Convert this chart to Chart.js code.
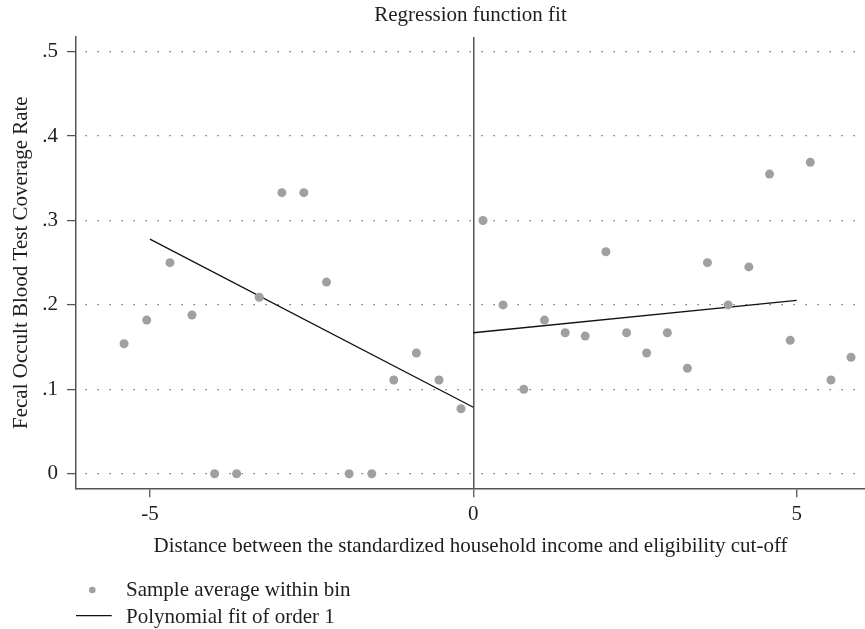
<!DOCTYPE html>
<html>
<head>
<meta charset="utf-8">
<script src="https://cdn.jsdelivr.net/npm/chart.js@4"></script>
<style>
  html, body { margin: 0; padding: 0; background: #ffffff; }
  #wrap { width: 865px; height: 629px; position: relative; }
</style>
</head>
<body>
<div id="wrap"><canvas id="c" width="865" height="629"></canvas></div>
<script>
// ---- data ----
const xTicks = [-5, 0, 5];
const yTicks = [0, 0.1, 0.2, 0.3, 0.4, 0.5];
const yTickLabels = ["0", ".1", ".2", ".3", ".4", ".5"];

const leftBinX = [-5.40, -5.05, -4.69, -4.35, -4.00, -3.66, -3.31, -2.96, -2.62, -2.27, -1.92, -1.57, -1.23, -0.88, -0.53, -0.19];
const leftBinY = [0.154, 0.182, 0.250, 0.188, 0.000, 0.000, 0.209, 0.333, 0.333, 0.227, 0.000, 0.000, 0.111, 0.143, 0.111, 0.077];
const rightBinX = [0.15, 0.46, 0.78, 1.10, 1.42, 1.73, 2.05, 2.37, 2.68, 3.00, 3.31, 3.62, 3.94, 4.26, 4.58, 4.90, 5.21, 5.53, 5.84];
const rightBinY = [0.300, 0.200, 0.100, 0.182, 0.167, 0.163, 0.263, 0.167, 0.143, 0.167, 0.125, 0.250, 0.200, 0.245, 0.355, 0.158, 0.369, 0.111, 0.138];

const leftFitX = [-5.0, 0.0];
const leftFitY = [0.278, 0.0787];
const rightFitX = [0.0, 5.0];
const rightFitY = [0.167, 0.2054];

const titleText = "Regression function fit";
const xTitle = "Distance between the standardized household income and eligibility cut-off";
const yTitle = "Fecal Occult Blood Test Coverage Rate";
const legendLabels = ["Sample average within bin", "Polynomial fit of order 1"];

// ---- build ----
const FONT = '"Liberation Serif", "Times New Roman", serif';
const TXT = '#1e1e1e';
const AX = '#555555';
const DOT = '#a0a0a0';

const toXY = (xs, ys) => xs.map((x, i) => ({x: x, y: ys[i]}));
const binPoints = toXY(leftBinX, leftBinY).concat(toXY(rightBinX, rightBinY));

const legendPlugin = {
  id: 'stackedLegend',
  afterDraw(chart) {
    const ctx = chart.ctx;
    ctx.save();
    ctx.fillStyle = DOT;
    ctx.beginPath();
    ctx.arc(92.3, 590, 3.3, 0, Math.PI * 2);
    ctx.fill();
    ctx.strokeStyle = '#111111';
    ctx.lineWidth = 1.3;
    ctx.beginPath();
    ctx.moveTo(76, 615.7);
    ctx.lineTo(111.7, 615.7);
    ctx.stroke();
    ctx.fillStyle = TXT;
    ctx.font = '21px ' + FONT;
    ctx.textBaseline = 'alphabetic';
    ctx.textAlign = 'left';
    ctx.fillText(legendLabels[0], 126, 596);
    ctx.fillText(legendLabels[1], 126, 623.3);
    ctx.restore();
  }
};

new Chart(document.getElementById('c'), {
  type: 'scatter',
  data: {
    datasets: [
      {
        label: legendLabels[1] + ' (left)',
        type: 'line',
        data: toXY(leftFitX, leftFitY),
        borderColor: '#111111',
        borderWidth: 1.3,
        pointRadius: 0,
        fill: false,
        order: 2
      },
      {
        label: legendLabels[1] + ' (right)',
        type: 'line',
        data: toXY(rightFitX, rightFitY),
        borderColor: '#111111',
        borderWidth: 1.3,
        pointRadius: 0,
        fill: false,
        order: 2
      },
      {
        label: legendLabels[0],
        data: binPoints,
        backgroundColor: DOT,
        borderWidth: 0,
        pointRadius: 4.5,
        pointHoverRadius: 4.5,
        order: 1
      }
    ]
  },
  options: {
    responsive: false,
    animation: false,
    devicePixelRatio: 1,
    layout: { autoPadding: false, padding: { top: 0, left: 0, right: 0, bottom: 70.2 } },
    plugins: {
      legend: { display: false },
      tooltip: { enabled: false },
      title: {
        display: true,
        text: titleText,
        fullSize: false,
        color: TXT,
        font: { family: FONT, size: 21, weight: 'normal' },
        padding: { top: 3, bottom: 8.8 }
      }
    },
    scales: {
      x: {
        type: 'linear',
        min: -6.143,
        max: 6.056,
        afterBuildTicks: (s) => { s.ticks = xTicks.map(v => ({value: v})); },
        afterFit: (s) => { s.height = 70.5; s.paddingRight = 0; s.paddingLeft = 0; },
        ticks: {
          color: TXT,
          font: { family: FONT, size: 21 },
          padding: 4.7,
          maxRotation: 0,
          callback: (v) => String(v)
        },
        grid: {
          display: true,
          drawOnChartArea: true,
          drawTicks: true,
          tickLength: 9,
          color: (ctx) => (ctx.tick && ctx.tick.value === 0) ? AX : 'rgba(0,0,0,0)',
          lineWidth: 1.5,
          tickColor: AX,
          tickWidth: 1.3
        },
        border: { display: true, color: AX, width: 1.5 },
        title: {
          display: true,
          text: xTitle,
          color: TXT,
          font: { family: FONT, size: 21 },
          padding: { top: 0, bottom: 0 }
        }
      },
      y: {
        type: 'linear',
        min: -0.0173,
        max: 0.5174,
        afterBuildTicks: (s) => { s.ticks = yTicks.map(v => ({value: v})); },
        afterFit: (s) => { s.width = 76; s.paddingTop = 0; s.paddingBottom = 0; },
        ticks: {
          color: TXT,
          font: { family: FONT, size: 21 },
          padding: 9,
          callback: (v) => {
            const i = yTicks.findIndex(t => Math.abs(t - v) < 1e-9);
            return i >= 0 ? yTickLabels[i] : '';
          }
        },
        grid: {
          display: true,
          drawOnChartArea: true,
          drawTicks: true,
          tickLength: 9,
          color: AX,
          lineWidth: 1.2,
          tickColor: AX,
          tickWidth: 1.3,
          tickBorderDash: []
        },
        border: { display: true, color: AX, width: 1.5, dash: [1.2, 10.8], dashOffset: -9 },
        title: {
          display: true,
          text: yTitle,
          color: TXT,
          font: { family: FONT, size: 21 },
          padding: { top: 8.5, bottom: 0 }
        }
      }
    }
  },
  plugins: [legendPlugin]
});
</script>
</body>
</html>
